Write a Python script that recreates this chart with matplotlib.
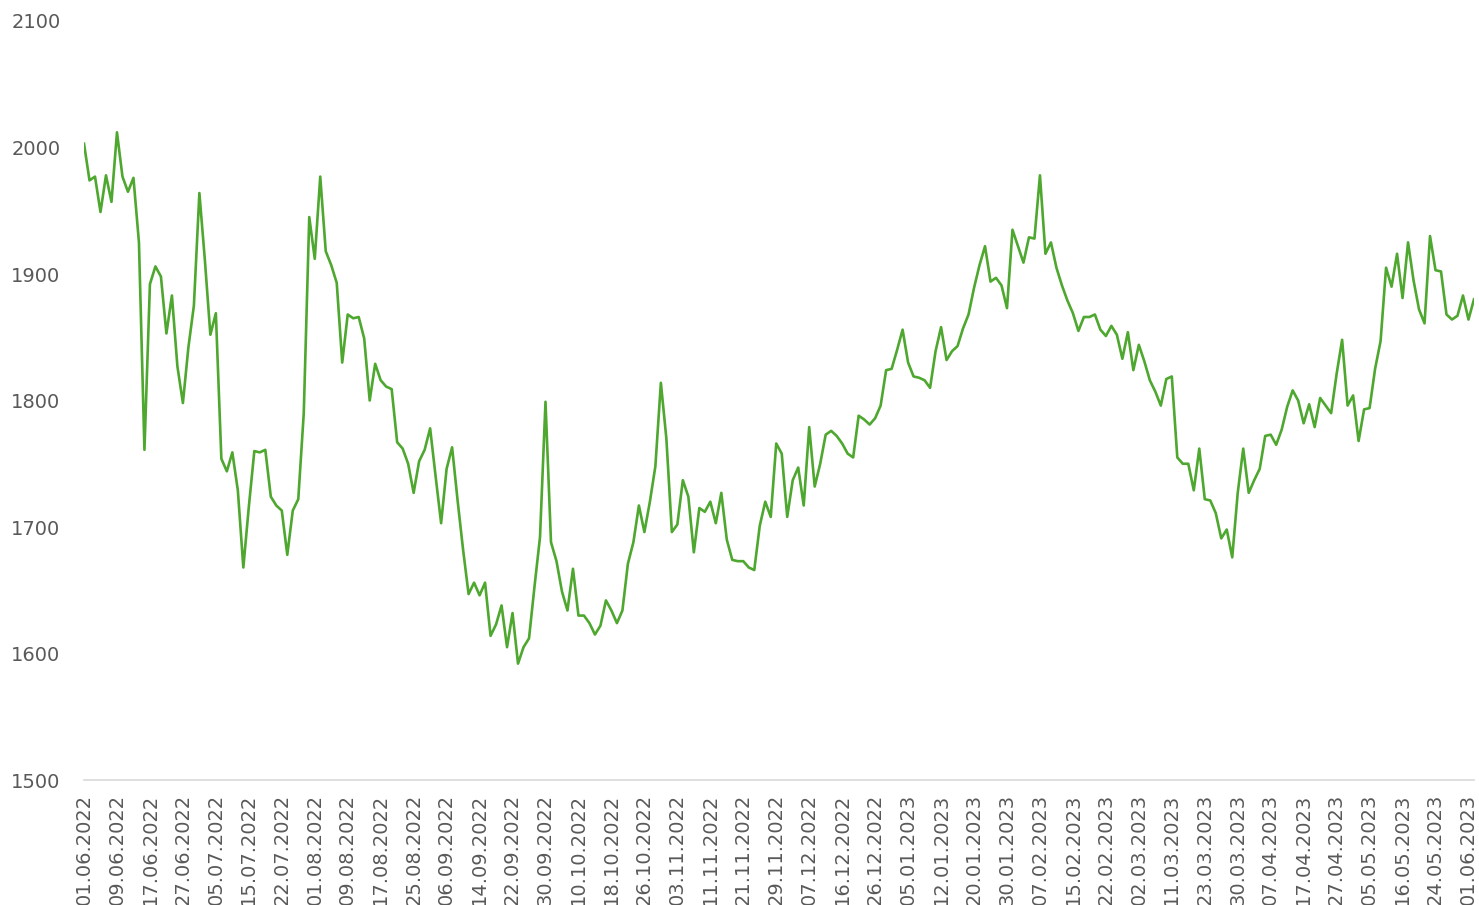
import matplotlib
matplotlib.use("Agg")
import matplotlib.pyplot as plt

# prices, one per trading day
prices = [
    2003, 1974, 1977, 1949, 1978, 1957, 2012, 1977, 1965, 1976,
    1925, 1761, 1892, 1906, 1898, 1853, 1883, 1827, 1798, 1842,
    1875, 1964, 1911, 1852, 1869, 1754, 1744, 1759, 1729, 1668,
    1716, 1760, 1759, 1761, 1724, 1717, 1713, 1678, 1713, 1722,
    1790, 1945, 1912, 1977, 1918, 1907, 1893, 1830, 1868, 1865,
    1866, 1849, 1800, 1829, 1816, 1811, 1809, 1767, 1762, 1750,
    1727, 1752, 1761, 1778, 1740, 1703, 1746, 1763, 1721, 1682,
    1647, 1656, 1646, 1656, 1614, 1623, 1638, 1605, 1632, 1592,
    1605, 1612, 1653, 1692, 1799, 1688, 1673, 1649, 1634, 1667,
    1630, 1630, 1624, 1615, 1622, 1642, 1634, 1624, 1634, 1671,
    1688, 1717, 1696, 1720, 1748, 1814, 1770, 1696, 1702, 1737,
    1724, 1680, 1715, 1712, 1720, 1703, 1727, 1690, 1674, 1673,
    1673, 1668, 1666, 1701, 1720, 1708, 1766, 1758, 1708, 1737,
    1747, 1717, 1779, 1732, 1750, 1773, 1776, 1772, 1766, 1758,
    1755, 1788, 1785, 1781, 1786, 1796, 1824, 1825, 1840, 1856,
    1830, 1819, 1818, 1816, 1810, 1839, 1858, 1832, 1839, 1843,
    1857, 1868, 1889, 1907, 1922, 1894, 1897, 1891, 1873, 1935,
    1922, 1909, 1929, 1928, 1978, 1916, 1925, 1905, 1891, 1879,
    1869, 1855, 1866, 1866, 1868, 1856, 1851, 1859, 1852, 1833,
    1854, 1824, 1844, 1831, 1816, 1807, 1796, 1817, 1819, 1755,
    1750, 1750, 1729, 1762, 1722, 1721, 1711, 1691, 1698, 1676,
    1727, 1762, 1727, 1737, 1746, 1772, 1773, 1765, 1777, 1795,
    1808, 1800, 1782, 1797, 1779, 1802, 1796, 1790, 1821, 1848,
    1796, 1804, 1768, 1793, 1794, 1825, 1847, 1905, 1890, 1916,
    1881, 1925, 1895, 1872, 1861, 1930, 1903, 1902, 1868, 1864,
    1867, 1883, 1864, 1880,
]

# date labels shown every 6th point
date_labels = [
    "01.06.2022", "09.06.2022", "17.06.2022", "27.06.2022", "05.07.2022",
    "15.07.2022", "22.07.2022", "01.08.2022", "09.08.2022", "17.08.2022",
    "25.08.2022", "06.09.2022", "14.09.2022", "22.09.2022", "30.09.2022",
    "10.10.2022", "18.10.2022", "26.10.2022", "03.11.2022", "11.11.2022",
    "21.11.2022", "29.11.2022", "07.12.2022", "16.12.2022", "26.12.2022",
    "05.01.2023", "12.01.2023", "20.01.2023", "30.01.2023", "07.02.2023",
    "15.02.2023", "22.02.2023", "02.03.2023", "11.03.2023", "23.03.2023",
    "30.03.2023", "07.04.2023", "17.04.2023", "27.04.2023", "05.05.2023",
    "16.05.2023", "24.05.2023", "01.06.2023",
]
label_step = 6
y_ticks = [1500, 1600, 1700, 1800, 1900, 2000, 2100]

fig = plt.figure(figsize=(14.79, 9.05), dpi=100, facecolor="white")
ax = fig.add_axes([0.0568, 0.1381, 0.9398, 0.8387])

ax.plot(range(len(prices)), prices, color="#4EA72E", linewidth=1.9,
        solid_joinstyle="round")

ax.set_xlim(0, len(prices) - 1)
ax.set_ylim(y_ticks[0], y_ticks[-1])
ax.set_yticks(y_ticks)
ax.set_xticks(range(0, len(date_labels) * label_step, label_step))
ax.set_xticklabels(date_labels, rotation=90)

for side in ["top", "right", "left"]:
    ax.spines[side].set_visible(False)
ax.spines["bottom"].set_color("#D9D9D9")
ax.spines["bottom"].set_linewidth(1.2)

ax.tick_params(axis="y", length=0, pad=17, labelsize=14, labelcolor="#595959")
ax.tick_params(axis="x", length=0, pad=10, labelsize=14, labelcolor="#595959")

fig.savefig("out.png", dpi=100, facecolor="white")
